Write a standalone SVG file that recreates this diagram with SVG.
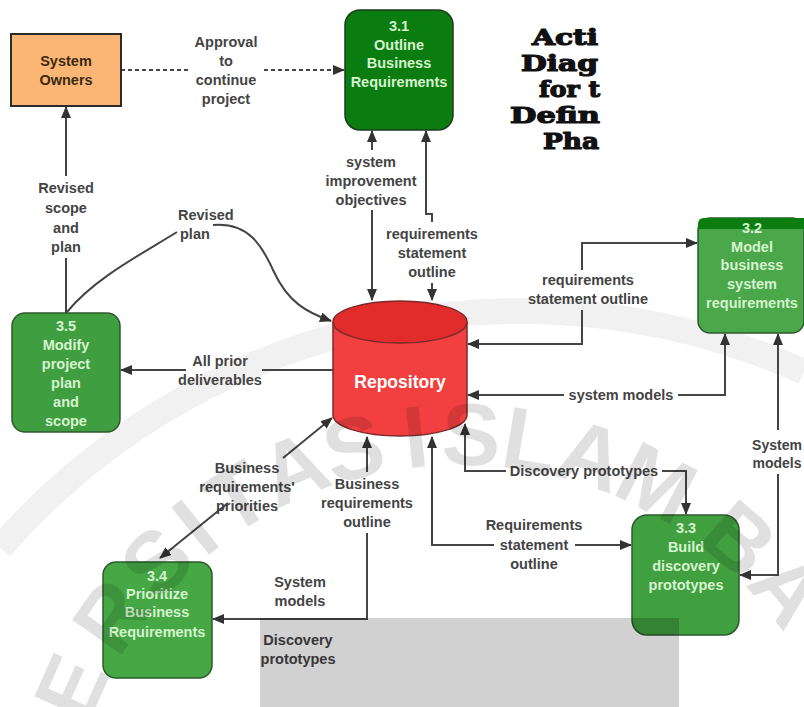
<svg xmlns="http://www.w3.org/2000/svg" width="804" height="707" viewBox="0 0 804 707">
<style>
.lbl{font-family:"Liberation Sans",Arial,sans-serif;font-size:14.5px;font-weight:bold;fill:#444;text-anchor:middle}
.nt{font-family:"Liberation Sans",Arial,sans-serif;font-size:14.5px;font-weight:bold;fill:#d6f3cf;text-anchor:middle}
.ttl{font-family:"DejaVu Serif",serif;font-size:23px;font-weight:bold;fill:#111;stroke:#111;stroke-width:1.2}
.ln{fill:none;stroke:#454545;stroke-width:2}
.wm{font-family:"Liberation Sans",Arial,sans-serif;font-size:88px;font-weight:bold;fill:#000;fill-opacity:0.12;text-anchor:middle}
</style>
<defs>
<marker id="ah" markerWidth="12" markerHeight="10" refX="11" refY="5" orient="auto-start-reverse" markerUnits="userSpaceOnUse">
<path d="M0,0 L12,5 L0,10 z" fill="#333"/>
</marker>
</defs>
<rect width="804" height="707" fill="#fff"/>

<g id="watermark-ring">
<path d="M0,548 A690,690 0 0 1 804,372" fill="none" stroke="#000" stroke-opacity="0.055" stroke-width="26"/>
</g>

<g id="title">
<text class="ttl" x="532" y="45" textLength="66" lengthAdjust="spacingAndGlyphs">Acti</text>
<text class="ttl" x="521" y="71" textLength="77" lengthAdjust="spacingAndGlyphs">Diag</text>
<text class="ttl" x="539" y="97" textLength="61" lengthAdjust="spacingAndGlyphs">for t</text>
<text class="ttl" x="510" y="123" textLength="90" lengthAdjust="spacingAndGlyphs">Defin</text>
<text class="ttl" x="543" y="149" textLength="56" lengthAdjust="spacingAndGlyphs">Pha</text>
</g>

<g id="connectors">
<path class="ln" d="M66,313 V258 M66,176 V107" marker-end="url(#ah)"/>
<path class="ln" d="M121,70 H188 M264,70 H344" stroke-dasharray="4,3" marker-end="url(#ah)"/>
<path class="ln" d="M372,300 V210 M372,150 V131" marker-start="url(#ah)" marker-end="url(#ah)"/>
<path class="ln" d="M432,300 V283 M432,222 V214 H426 V131" marker-start="url(#ah)" marker-end="url(#ah)"/>
<path class="ln" d="M468,344 H582 V310 M582,270 V243 H697" marker-start="url(#ah)" marker-end="url(#ah)"/>
<path class="ln" d="M468,395 H564 M678,395 H725 V334" marker-start="url(#ah)" marker-end="url(#ah)"/>
<path class="ln" d="M778,334 V430 M778,474 V575 H740" marker-start="url(#ah)" marker-end="url(#ah)"/>
<path class="ln" d="M465,424 V471 H506 M662,471 H686 V514" marker-start="url(#ah)" marker-end="url(#ah)"/>
<path class="ln" d="M432,437 V545 H494 M575,545 H631" marker-start="url(#ah)" marker-end="url(#ah)"/>
<path class="ln" d="M367,437 V472 M367,533 V619 H213" marker-start="url(#ah)" marker-end="url(#ah)"/>
<path class="ln" d="M332,418 L283,458 M228,503 L160,558" marker-start="url(#ah)" marker-end="url(#ah)"/>
<path class="ln" d="M67,312 C95,278 140,255 177,232 M213,225 C248,222 262,245 274,272 C288,302 306,312 331,321" marker-end="url(#ah)"/>
<path class="ln" d="M333,370 H262 M186,370 H121" marker-end="url(#ah)"/>
</g>

<g id="labels">
<text class="lbl" x="226" y="47">Approval</text>
<text class="lbl" x="226" y="66">to</text>
<text class="lbl" x="226" y="85">continue</text>
<text class="lbl" x="226" y="104">project</text>
<text class="lbl" x="66" y="193">Revised</text>
<text class="lbl" x="66" y="213">scope</text>
<text class="lbl" x="66" y="233">and</text>
<text class="lbl" x="66" y="252">plan</text>
<text class="lbl" x="371" y="167">system</text>
<text class="lbl" x="371" y="186">improvement</text>
<text class="lbl" x="371" y="205">objectives</text>
<text class="lbl" x="432" y="239">requirements</text>
<text class="lbl" x="432" y="258">statement</text>
<text class="lbl" x="432" y="277">outline</text>
<text class="lbl" x="588" y="285">requirements</text>
<text class="lbl" x="588" y="304">statement outline</text>
<text class="lbl" x="178" y="220" style="text-anchor:start">Revised</text>
<text class="lbl" x="180" y="239" style="text-anchor:start">plan</text>
<text class="lbl" x="220" y="366">All prior</text>
<text class="lbl" x="220" y="385">deliverables</text>
<text class="lbl" x="621" y="400">system models</text>
<text class="lbl" x="777" y="450" style="font-size:14px">System</text>
<text class="lbl" x="777" y="468" style="font-size:14px">models</text>
<text class="lbl" x="584" y="476">Discovery prototypes</text>
<text class="lbl" x="534" y="530">Requirements</text>
<text class="lbl" x="534" y="550">statement</text>
<text class="lbl" x="534" y="569">outline</text>
<text class="lbl" x="367" y="489">Business</text>
<text class="lbl" x="367" y="508">requirements</text>
<text class="lbl" x="367" y="527">outline</text>
<text class="lbl" x="247" y="473">Business</text>
<text class="lbl" x="247" y="492">requirements'</text>
<text class="lbl" x="247" y="511">priorities</text>
<text class="lbl" x="300" y="587">System</text>
<text class="lbl" x="300" y="606">models</text>
<text class="lbl" x="298" y="645">Discovery</text>
<text class="lbl" x="298" y="664">prototypes</text>
</g>

<g id="system-owners">
<rect x="11" y="34" width="110" height="72" fill="#fbb675" stroke="#2b2b2b" stroke-width="2"/>
<text class="nt" x="66" y="66" style="fill:#3a2a12">System</text>
<text class="nt" x="66" y="85" style="fill:#3a2a12">Owners</text>
</g>

<g id="n31">
<rect x="345" y="10" width="108" height="120" rx="15" fill="#0b7d10" stroke="#1c3a1c" stroke-width="1.5"/>
<text class="nt" x="399" y="31">3.1</text>
<text class="nt" x="399" y="50">Outline</text>
<text class="nt" x="399" y="68">Business</text>
<text class="nt" x="399" y="87">Requirements</text>
</g>

<g id="n32">
<rect x="698" y="218" width="106" height="115" rx="12" fill="#4aa84a" stroke="#2c5a2c" stroke-width="1.5"/>
<path d="M698,229 V224 Q698,218 704,218 H804 V229 H698 z" fill="#0b7d10"/>
<text class="nt" x="752" y="233">3.2</text>
<text class="nt" x="752" y="252">Model</text>
<text class="nt" x="752" y="270">business</text>
<text class="nt" x="752" y="289">system</text>
<text class="nt" x="752" y="308">requirements</text>
</g>

<g id="n35">
<rect x="12" y="313" width="108" height="119" rx="13" fill="#3f9e3f" stroke="#2c5a2c" stroke-width="1.5"/>
<text class="nt" x="66" y="331">3.5</text>
<text class="nt" x="66" y="350">Modify</text>
<text class="nt" x="66" y="369">project</text>
<text class="nt" x="66" y="388">plan</text>
<text class="nt" x="66" y="407">and</text>
<text class="nt" x="66" y="426">scope</text>
</g>

<g id="n34">
<rect x="103" y="562" width="109" height="116" rx="13" fill="#45a845" stroke="#2c5a2c" stroke-width="1.5"/>
<text class="nt" x="157" y="581">3.4</text>
<text class="nt" x="157" y="599">Prioritize</text>
<text class="nt" x="157" y="617">Business</text>
<text class="nt" x="157" y="637">Requirements</text>
</g>

<g id="n33">
<rect x="632" y="515" width="107" height="120" rx="15" fill="#40a040" stroke="#2c5a2c" stroke-width="1.5"/>
<text class="nt" x="686" y="533">3.3</text>
<text class="nt" x="686" y="552">Build</text>
<text class="nt" x="686" y="571">discovery</text>
<text class="nt" x="686" y="590">prototypes</text>
</g>

<g id="repository">
<path d="M333,322 V415 A67,21 0 0 0 467,415 V322" fill="#f23f3f" stroke="#7d2a2a" stroke-width="1.5"/>
<ellipse cx="400" cy="322" rx="67" ry="21" fill="#e22c2c" stroke="#7d2a2a" stroke-width="1.5"/>
<text x="400" y="388" style="font-family:'Liberation Sans',Arial,sans-serif;font-size:17.5px;font-weight:bold;fill:#fff;text-anchor:middle">Repository</text>
</g>

<g id="watermark">
<rect x="260" y="618" width="419" height="89" fill="#000" fill-opacity="0.18"/>
<g transform="translate(460,860)">
<text class="wm" transform="rotate(-66) translate(0,-425)" y="30">E</text>
<text class="wm" transform="rotate(-55) translate(0,-425)" y="30">R</text>
<text class="wm" transform="rotate(-45.5) translate(0,-425)" y="30">S</text>
<text class="wm" transform="rotate(-38.5) translate(0,-425)" y="30">I</text>
<text class="wm" transform="rotate(-31.5) translate(0,-425)" y="30">T</text>
<text class="wm" transform="rotate(-23) translate(0,-425)" y="30">A</text>
<text class="wm" transform="rotate(-14.5) translate(0,-425)" y="30">S</text>
<text class="wm" transform="rotate(-6) translate(0,-425)" y="30">I</text>
<text class="wm" transform="rotate(1.5) translate(0,-425)" y="30">S</text>
<text class="wm" transform="rotate(9.5) translate(0,-425)" y="30">L</text>
<text class="wm" transform="rotate(18) translate(0,-425)" y="30">A</text>
<text class="wm" transform="rotate(27.5) translate(0,-425)" y="30">M</text>
<text class="wm" transform="rotate(41) translate(0,-425)" y="30">B</text>
<text class="wm" transform="rotate(50.5) translate(0,-425)" y="30">A</text>
</g>
</g>
</svg>
